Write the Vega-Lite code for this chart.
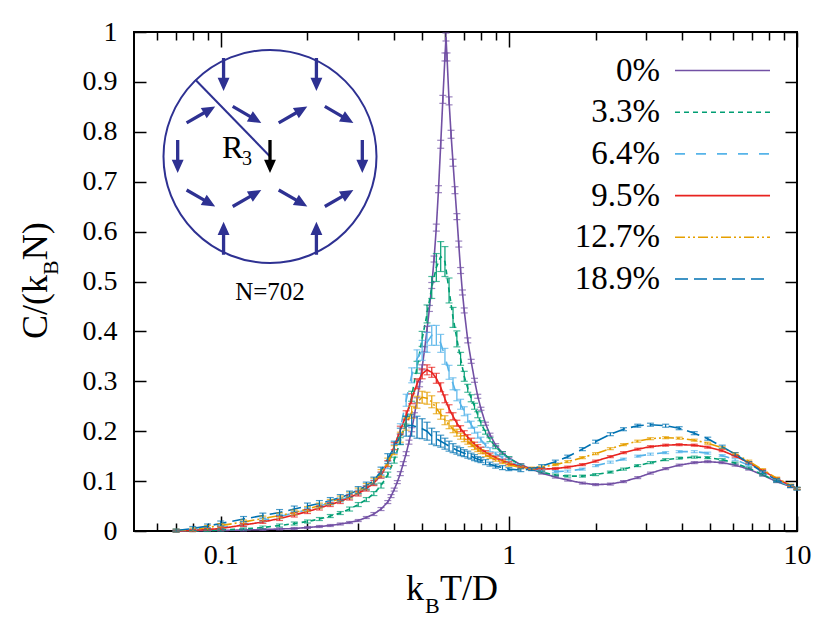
{
  "$schema": "https://vega.github.io/schema/vega-lite/v6.json",
  "width": 663,
  "height": 499,
  "autosize": {"type": "none"},
  "padding": {"left": 134, "top": 32, "right": 33, "bottom": 98},
  "background": "white",
  "config": {
    "view": {"stroke": "#000", "strokeWidth": 2},
    "mark": {"aria": false},
    "axis": {"aria": false, "domain": false, "grid": false, "tickColor": "#000", "tickWidth": 1.5, "labelFontSize": 28, "labelColor": "#000"},
    "legend": {"aria": false}
  },
  "datasets": {
    "curves": [
      {"s":"0%","x":0.07,"y":0.000,"e":0.001},{"s":"0%","x":0.08,"y":0.000,"e":0.001},{"s":"0%","x":0.09,"y":0.001,"e":0.001},{"s":"0%","x":0.10,"y":0.001,"e":0.001},
      {"s":"0%","x":0.12,"y":0.002,"e":0.002},{"s":"0%","x":0.14,"y":0.003,"e":0.002},{"s":"0%","x":0.16,"y":0.004,"e":0.002},{"s":"0%","x":0.18,"y":0.005,"e":0.002},
      {"s":"0%","x":0.20,"y":0.007,"e":0.002},{"s":"0%","x":0.22,"y":0.009,"e":0.002},{"s":"0%","x":0.24,"y":0.011,"e":0.002},{"s":"0%","x":0.26,"y":0.014,"e":0.002},
      {"s":"0%","x":0.28,"y":0.017,"e":0.002},{"s":"0%","x":0.30,"y":0.021,"e":0.002},{"s":"0%","x":0.32,"y":0.027,"e":0.002},{"s":"0%","x":0.34,"y":0.034,"e":0.003},
      {"s":"0%","x":0.36,"y":0.044,"e":0.003},{"s":"0%","x":0.38,"y":0.058,"e":0.003},{"s":"0%","x":0.39,"y":0.070,"e":0.003},{"s":"0%","x":0.40,"y":0.083,"e":0.003},
      {"s":"0%","x":0.41,"y":0.098,"e":0.003},{"s":"0%","x":0.42,"y":0.115,"e":0.004},{"s":"0%","x":0.43,"y":0.135,"e":0.004},{"s":"0%","x":0.44,"y":0.155,"e":0.004},
      {"s":"0%","x":0.45,"y":0.178,"e":0.004},{"s":"0%","x":0.46,"y":0.203,"e":0.004},{"s":"0%","x":0.47,"y":0.232,"e":0.005},{"s":"0%","x":0.48,"y":0.262,"e":0.005},
      {"s":"0%","x":0.49,"y":0.294,"e":0.005},{"s":"0%","x":0.50,"y":0.328,"e":0.005},{"s":"0%","x":0.51,"y":0.364,"e":0.005},{"s":"0%","x":0.52,"y":0.404,"e":0.006},
      {"s":"0%","x":0.53,"y":0.446,"e":0.006},{"s":"0%","x":0.54,"y":0.492,"e":0.006},{"s":"0%","x":0.55,"y":0.545,"e":0.006},{"s":"0%","x":0.56,"y":0.608,"e":0.007},
      {"s":"0%","x":0.57,"y":0.685,"e":0.007},{"s":"0%","x":0.58,"y":0.775,"e":0.008},{"s":"0%","x":0.59,"y":0.865,"e":0.008},{"s":"0%","x":0.60,"y":0.950,"e":0.008},
      {"s":"0%","x":0.605,"y":0.990,"e":0.008},{"s":"0%","x":0.61,"y":0.950,"e":0.008},{"s":"0%","x":0.62,"y":0.862,"e":0.008},{"s":"0%","x":0.63,"y":0.795,"e":0.008},
      {"s":"0%","x":0.64,"y":0.738,"e":0.007},{"s":"0%","x":0.65,"y":0.683,"e":0.007},{"s":"0%","x":0.66,"y":0.630,"e":0.006},{"s":"0%","x":0.67,"y":0.575,"e":0.006},
      {"s":"0%","x":0.68,"y":0.522,"e":0.006},{"s":"0%","x":0.69,"y":0.478,"e":0.005},{"s":"0%","x":0.70,"y":0.442,"e":0.005},{"s":"0%","x":0.72,"y":0.382,"e":0.005},
      {"s":"0%","x":0.74,"y":0.340,"e":0.004},{"s":"0%","x":0.76,"y":0.302,"e":0.004},{"s":"0%","x":0.78,"y":0.270,"e":0.004},{"s":"0%","x":0.80,"y":0.245,"e":0.003},
      {"s":"0%","x":0.83,"y":0.215,"e":0.003},{"s":"0%","x":0.86,"y":0.193,"e":0.003},{"s":"0%","x":0.90,"y":0.172,"e":0.003},{"s":"0%","x":0.95,"y":0.157,"e":0.002},
      {"s":"0%","x":1.0,"y":0.146,"e":0.002},{"s":"0%","x":1.1,"y":0.133,"e":0.002},{"s":"0%","x":1.2,"y":0.124,"e":0.002},{"s":"0%","x":1.3,"y":0.116,"e":0.002},
      {"s":"0%","x":1.45,"y":0.108,"e":0.002},{"s":"0%","x":1.6,"y":0.102,"e":0.002},{"s":"0%","x":1.8,"y":0.096,"e":0.002},{"s":"0%","x":2.0,"y":0.093,"e":0.002},
      {"s":"0%","x":2.25,"y":0.094,"e":0.002},{"s":"0%","x":2.5,"y":0.099,"e":0.002},{"s":"0%","x":2.8,"y":0.107,"e":0.002},{"s":"0%","x":3.1,"y":0.116,"e":0.002},
      {"s":"0%","x":3.5,"y":0.125,"e":0.002},{"s":"0%","x":3.9,"y":0.132,"e":0.002},{"s":"0%","x":4.4,"y":0.137,"e":0.002},{"s":"0%","x":4.9,"y":0.139,"e":0.002},
      {"s":"0%","x":5.5,"y":0.137,"e":0.002},{"s":"0%","x":6.1,"y":0.132,"e":0.002},{"s":"0%","x":6.8,"y":0.124,"e":0.002},{"s":"0%","x":7.6,"y":0.112,"e":0.002},
      {"s":"0%","x":8.5,"y":0.099,"e":0.002},{"s":"0%","x":9.5,"y":0.089,"e":0.002},{"s":"0%","x":10,"y":0.085,"e":0.002},

      {"s":"3.3%","x":0.07,"y":0.000,"e":0.001},{"s":"3.3%","x":0.08,"y":0.000,"e":0.001},{"s":"3.3%","x":0.09,"y":0.001,"e":0.002},{"s":"3.3%","x":0.10,"y":0.002,"e":0.002},
      {"s":"3.3%","x":0.12,"y":0.004,"e":0.002},{"s":"3.3%","x":0.14,"y":0.007,"e":0.003},{"s":"3.3%","x":0.16,"y":0.011,"e":0.003},{"s":"3.3%","x":0.18,"y":0.015,"e":0.003},
      {"s":"3.3%","x":0.20,"y":0.019,"e":0.003},{"s":"3.3%","x":0.22,"y":0.024,"e":0.003},{"s":"3.3%","x":0.24,"y":0.030,"e":0.003},{"s":"3.3%","x":0.26,"y":0.036,"e":0.003},
      {"s":"3.3%","x":0.28,"y":0.044,"e":0.004},{"s":"3.3%","x":0.30,"y":0.053,"e":0.004},{"s":"3.3%","x":0.32,"y":0.063,"e":0.004},{"s":"3.3%","x":0.34,"y":0.075,"e":0.004},
      {"s":"3.3%","x":0.36,"y":0.091,"e":0.005},{"s":"3.3%","x":0.38,"y":0.113,"e":0.005},{"s":"3.3%","x":0.40,"y":0.142,"e":0.006},{"s":"3.3%","x":0.42,"y":0.180,"e":0.007},
      {"s":"3.3%","x":0.44,"y":0.222,"e":0.008},{"s":"3.3%","x":0.46,"y":0.270,"e":0.010},{"s":"3.3%","x":0.48,"y":0.328,"e":0.012},{"s":"3.3%","x":0.50,"y":0.385,"e":0.015},
      {"s":"3.3%","x":0.52,"y":0.435,"e":0.018},{"s":"3.3%","x":0.54,"y":0.488,"e":0.022},{"s":"3.3%","x":0.56,"y":0.528,"e":0.028},{"s":"3.3%","x":0.58,"y":0.550,"e":0.030},
      {"s":"3.3%","x":0.60,"y":0.540,"e":0.030},{"s":"3.3%","x":0.62,"y":0.482,"e":0.025},{"s":"3.3%","x":0.64,"y":0.428,"e":0.020},{"s":"3.3%","x":0.66,"y":0.385,"e":0.016},
      {"s":"3.3%","x":0.68,"y":0.345,"e":0.013},{"s":"3.3%","x":0.70,"y":0.310,"e":0.010},{"s":"3.3%","x":0.72,"y":0.286,"e":0.008},{"s":"3.3%","x":0.74,"y":0.266,"e":0.007},
      {"s":"3.3%","x":0.76,"y":0.250,"e":0.006},{"s":"3.3%","x":0.78,"y":0.233,"e":0.006},{"s":"3.3%","x":0.80,"y":0.216,"e":0.005},{"s":"3.3%","x":0.83,"y":0.198,"e":0.004},
      {"s":"3.3%","x":0.86,"y":0.183,"e":0.004},{"s":"3.3%","x":0.90,"y":0.168,"e":0.003},{"s":"3.3%","x":0.95,"y":0.156,"e":0.003},{"s":"3.3%","x":1.0,"y":0.146,"e":0.003},
      {"s":"3.3%","x":1.1,"y":0.132,"e":0.002},{"s":"3.3%","x":1.2,"y":0.124,"e":0.002},{"s":"3.3%","x":1.3,"y":0.118,"e":0.002},{"s":"3.3%","x":1.45,"y":0.112,"e":0.002},
      {"s":"3.3%","x":1.6,"y":0.110,"e":0.002},{"s":"3.3%","x":1.8,"y":0.110,"e":0.002},{"s":"3.3%","x":2.0,"y":0.113,"e":0.002},{"s":"3.3%","x":2.25,"y":0.118,"e":0.002},
      {"s":"3.3%","x":2.5,"y":0.124,"e":0.002},{"s":"3.3%","x":2.8,"y":0.131,"e":0.002},{"s":"3.3%","x":3.1,"y":0.137,"e":0.002},{"s":"3.3%","x":3.5,"y":0.143,"e":0.002},
      {"s":"3.3%","x":3.9,"y":0.146,"e":0.002},{"s":"3.3%","x":4.4,"y":0.148,"e":0.002},{"s":"3.3%","x":4.9,"y":0.147,"e":0.002},{"s":"3.3%","x":5.5,"y":0.143,"e":0.002},
      {"s":"3.3%","x":6.1,"y":0.136,"e":0.002},{"s":"3.3%","x":6.8,"y":0.126,"e":0.002},{"s":"3.3%","x":7.6,"y":0.113,"e":0.002},{"s":"3.3%","x":8.5,"y":0.100,"e":0.002},
      {"s":"3.3%","x":9.5,"y":0.090,"e":0.002},{"s":"3.3%","x":10,"y":0.085,"e":0.002},

      {"s":"6.4%","x":0.07,"y":0.000,"e":0.002},{"s":"6.4%","x":0.08,"y":0.002,"e":0.002},{"s":"6.4%","x":0.09,"y":0.004,"e":0.002},{"s":"6.4%","x":0.10,"y":0.007,"e":0.003},
      {"s":"6.4%","x":0.12,"y":0.013,"e":0.003},{"s":"6.4%","x":0.14,"y":0.021,"e":0.003},{"s":"6.4%","x":0.16,"y":0.029,"e":0.004},{"s":"6.4%","x":0.18,"y":0.036,"e":0.004},
      {"s":"6.4%","x":0.20,"y":0.043,"e":0.004},{"s":"6.4%","x":0.22,"y":0.050,"e":0.004},{"s":"6.4%","x":0.24,"y":0.056,"e":0.004},{"s":"6.4%","x":0.26,"y":0.062,"e":0.004},
      {"s":"6.4%","x":0.28,"y":0.069,"e":0.005},{"s":"6.4%","x":0.30,"y":0.077,"e":0.005},{"s":"6.4%","x":0.32,"y":0.086,"e":0.005},{"s":"6.4%","x":0.34,"y":0.097,"e":0.005},
      {"s":"6.4%","x":0.36,"y":0.112,"e":0.006},{"s":"6.4%","x":0.38,"y":0.132,"e":0.007},{"s":"6.4%","x":0.40,"y":0.165,"e":0.008},{"s":"6.4%","x":0.42,"y":0.205,"e":0.010},
      {"s":"6.4%","x":0.44,"y":0.262,"e":0.012},{"s":"6.4%","x":0.46,"y":0.312,"e":0.015},{"s":"6.4%","x":0.48,"y":0.345,"e":0.018},{"s":"6.4%","x":0.50,"y":0.362,"e":0.020},
      {"s":"6.4%","x":0.52,"y":0.378,"e":0.020},{"s":"6.4%","x":0.54,"y":0.392,"e":0.020},{"s":"6.4%","x":0.56,"y":0.392,"e":0.020},{"s":"6.4%","x":0.58,"y":0.376,"e":0.018},
      {"s":"6.4%","x":0.60,"y":0.350,"e":0.016},{"s":"6.4%","x":0.62,"y":0.318,"e":0.014},{"s":"6.4%","x":0.64,"y":0.295,"e":0.012},{"s":"6.4%","x":0.66,"y":0.272,"e":0.011},
      {"s":"6.4%","x":0.68,"y":0.254,"e":0.010},{"s":"6.4%","x":0.70,"y":0.240,"e":0.009},{"s":"6.4%","x":0.72,"y":0.226,"e":0.008},{"s":"6.4%","x":0.74,"y":0.213,"e":0.007},
      {"s":"6.4%","x":0.76,"y":0.202,"e":0.006},{"s":"6.4%","x":0.78,"y":0.192,"e":0.006},{"s":"6.4%","x":0.80,"y":0.183,"e":0.005},{"s":"6.4%","x":0.83,"y":0.172,"e":0.004},
      {"s":"6.4%","x":0.86,"y":0.163,"e":0.004},{"s":"6.4%","x":0.90,"y":0.155,"e":0.003},{"s":"6.4%","x":0.95,"y":0.147,"e":0.003},{"s":"6.4%","x":1.0,"y":0.140,"e":0.003},
      {"s":"6.4%","x":1.1,"y":0.130,"e":0.002},{"s":"6.4%","x":1.2,"y":0.124,"e":0.002},{"s":"6.4%","x":1.3,"y":0.121,"e":0.002},{"s":"6.4%","x":1.45,"y":0.119,"e":0.002},
      {"s":"6.4%","x":1.6,"y":0.120,"e":0.002},{"s":"6.4%","x":1.8,"y":0.124,"e":0.002},{"s":"6.4%","x":2.0,"y":0.131,"e":0.002},{"s":"6.4%","x":2.25,"y":0.138,"e":0.002},
      {"s":"6.4%","x":2.5,"y":0.144,"e":0.002},{"s":"6.4%","x":2.8,"y":0.150,"e":0.002},{"s":"6.4%","x":3.1,"y":0.154,"e":0.002},{"s":"6.4%","x":3.5,"y":0.157,"e":0.002},
      {"s":"6.4%","x":3.9,"y":0.159,"e":0.002},{"s":"6.4%","x":4.4,"y":0.159,"e":0.002},{"s":"6.4%","x":4.9,"y":0.156,"e":0.002},{"s":"6.4%","x":5.5,"y":0.151,"e":0.002},
      {"s":"6.4%","x":6.1,"y":0.143,"e":0.002},{"s":"6.4%","x":6.8,"y":0.132,"e":0.002},{"s":"6.4%","x":7.6,"y":0.117,"e":0.002},{"s":"6.4%","x":8.5,"y":0.102,"e":0.002},
      {"s":"6.4%","x":9.5,"y":0.090,"e":0.002},{"s":"6.4%","x":10,"y":0.085,"e":0.002},

      {"s":"9.5%","x":0.07,"y":0.000,"e":0.002},{"s":"9.5%","x":0.08,"y":0.001,"e":0.002},{"s":"9.5%","x":0.09,"y":0.003,"e":0.002},{"s":"9.5%","x":0.10,"y":0.005,"e":0.003},
      {"s":"9.5%","x":0.12,"y":0.012,"e":0.003},{"s":"9.5%","x":0.14,"y":0.018,"e":0.003},{"s":"9.5%","x":0.16,"y":0.025,"e":0.004},{"s":"9.5%","x":0.18,"y":0.032,"e":0.004},
      {"s":"9.5%","x":0.20,"y":0.039,"e":0.004},{"s":"9.5%","x":0.22,"y":0.046,"e":0.004},{"s":"9.5%","x":0.24,"y":0.053,"e":0.004},{"s":"9.5%","x":0.26,"y":0.059,"e":0.004},
      {"s":"9.5%","x":0.28,"y":0.067,"e":0.005},{"s":"9.5%","x":0.30,"y":0.075,"e":0.005},{"s":"9.5%","x":0.32,"y":0.085,"e":0.005},{"s":"9.5%","x":0.34,"y":0.096,"e":0.005},
      {"s":"9.5%","x":0.36,"y":0.112,"e":0.006},{"s":"9.5%","x":0.38,"y":0.135,"e":0.006},{"s":"9.5%","x":0.40,"y":0.170,"e":0.007},{"s":"9.5%","x":0.42,"y":0.202,"e":0.008},
      {"s":"9.5%","x":0.44,"y":0.232,"e":0.009},{"s":"9.5%","x":0.46,"y":0.265,"e":0.010},{"s":"9.5%","x":0.48,"y":0.295,"e":0.010},{"s":"9.5%","x":0.50,"y":0.315,"e":0.010},
      {"s":"9.5%","x":0.52,"y":0.323,"e":0.010},{"s":"9.5%","x":0.54,"y":0.318,"e":0.010},{"s":"9.5%","x":0.56,"y":0.306,"e":0.010},{"s":"9.5%","x":0.58,"y":0.288,"e":0.009},
      {"s":"9.5%","x":0.60,"y":0.265,"e":0.008},{"s":"9.5%","x":0.62,"y":0.245,"e":0.008},{"s":"9.5%","x":0.64,"y":0.230,"e":0.007},{"s":"9.5%","x":0.66,"y":0.216,"e":0.006},
      {"s":"9.5%","x":0.68,"y":0.205,"e":0.006},{"s":"9.5%","x":0.70,"y":0.196,"e":0.005},{"s":"9.5%","x":0.72,"y":0.188,"e":0.005},{"s":"9.5%","x":0.74,"y":0.181,"e":0.005},
      {"s":"9.5%","x":0.76,"y":0.174,"e":0.004},{"s":"9.5%","x":0.78,"y":0.169,"e":0.004},{"s":"9.5%","x":0.80,"y":0.164,"e":0.004},{"s":"9.5%","x":0.83,"y":0.158,"e":0.003},
      {"s":"9.5%","x":0.86,"y":0.153,"e":0.003},{"s":"9.5%","x":0.90,"y":0.147,"e":0.003},{"s":"9.5%","x":0.95,"y":0.141,"e":0.003},{"s":"9.5%","x":1.0,"y":0.136,"e":0.003},
      {"s":"9.5%","x":1.1,"y":0.129,"e":0.002},{"s":"9.5%","x":1.2,"y":0.125,"e":0.002},{"s":"9.5%","x":1.3,"y":0.124,"e":0.002},{"s":"9.5%","x":1.45,"y":0.125,"e":0.002},
      {"s":"9.5%","x":1.6,"y":0.128,"e":0.002},{"s":"9.5%","x":1.8,"y":0.133,"e":0.002},{"s":"9.5%","x":2.0,"y":0.140,"e":0.002},{"s":"9.5%","x":2.25,"y":0.149,"e":0.002},
      {"s":"9.5%","x":2.5,"y":0.157,"e":0.002},{"s":"9.5%","x":2.8,"y":0.164,"e":0.002},{"s":"9.5%","x":3.1,"y":0.169,"e":0.002},{"s":"9.5%","x":3.5,"y":0.172,"e":0.002},
      {"s":"9.5%","x":3.9,"y":0.173,"e":0.002},{"s":"9.5%","x":4.4,"y":0.172,"e":0.002},{"s":"9.5%","x":4.9,"y":0.168,"e":0.002},{"s":"9.5%","x":5.5,"y":0.161,"e":0.002},
      {"s":"9.5%","x":6.1,"y":0.150,"e":0.002},{"s":"9.5%","x":6.8,"y":0.137,"e":0.002},{"s":"9.5%","x":7.6,"y":0.121,"e":0.002},{"s":"9.5%","x":8.5,"y":0.105,"e":0.002},
      {"s":"9.5%","x":9.5,"y":0.091,"e":0.002},{"s":"9.5%","x":10,"y":0.085,"e":0.002},

      {"s":"12.7%","x":0.07,"y":0.001,"e":0.003},{"s":"12.7%","x":0.08,"y":0.003,"e":0.003},{"s":"12.7%","x":0.09,"y":0.007,"e":0.004},{"s":"12.7%","x":0.10,"y":0.011,"e":0.004},
      {"s":"12.7%","x":0.12,"y":0.018,"e":0.004},{"s":"12.7%","x":0.14,"y":0.025,"e":0.005},{"s":"12.7%","x":0.16,"y":0.031,"e":0.005},{"s":"12.7%","x":0.18,"y":0.037,"e":0.005},
      {"s":"12.7%","x":0.20,"y":0.044,"e":0.005},{"s":"12.7%","x":0.22,"y":0.051,"e":0.005},{"s":"12.7%","x":0.24,"y":0.058,"e":0.005},{"s":"12.7%","x":0.26,"y":0.065,"e":0.005},
      {"s":"12.7%","x":0.28,"y":0.072,"e":0.006},{"s":"12.7%","x":0.30,"y":0.080,"e":0.006},{"s":"12.7%","x":0.32,"y":0.089,"e":0.006},{"s":"12.7%","x":0.34,"y":0.100,"e":0.006},
      {"s":"12.7%","x":0.36,"y":0.116,"e":0.007},{"s":"12.7%","x":0.38,"y":0.138,"e":0.008},{"s":"12.7%","x":0.40,"y":0.162,"e":0.009},{"s":"12.7%","x":0.42,"y":0.188,"e":0.010},
      {"s":"12.7%","x":0.44,"y":0.214,"e":0.012},{"s":"12.7%","x":0.46,"y":0.238,"e":0.012},{"s":"12.7%","x":0.48,"y":0.258,"e":0.012},{"s":"12.7%","x":0.50,"y":0.268,"e":0.012},
      {"s":"12.7%","x":0.52,"y":0.266,"e":0.012},{"s":"12.7%","x":0.54,"y":0.259,"e":0.012},{"s":"12.7%","x":0.56,"y":0.246,"e":0.011},{"s":"12.7%","x":0.58,"y":0.234,"e":0.010},
      {"s":"12.7%","x":0.60,"y":0.222,"e":0.009},{"s":"12.7%","x":0.62,"y":0.213,"e":0.008},{"s":"12.7%","x":0.64,"y":0.204,"e":0.007},{"s":"12.7%","x":0.66,"y":0.197,"e":0.007},
      {"s":"12.7%","x":0.68,"y":0.190,"e":0.006},{"s":"12.7%","x":0.70,"y":0.185,"e":0.006},{"s":"12.7%","x":0.72,"y":0.179,"e":0.005},{"s":"12.7%","x":0.74,"y":0.174,"e":0.005},
      {"s":"12.7%","x":0.76,"y":0.168,"e":0.005},{"s":"12.7%","x":0.78,"y":0.163,"e":0.004},{"s":"12.7%","x":0.80,"y":0.159,"e":0.004},{"s":"12.7%","x":0.83,"y":0.153,"e":0.004},
      {"s":"12.7%","x":0.86,"y":0.148,"e":0.003},{"s":"12.7%","x":0.90,"y":0.143,"e":0.003},{"s":"12.7%","x":0.95,"y":0.138,"e":0.003},{"s":"12.7%","x":1.0,"y":0.133,"e":0.003},
      {"s":"12.7%","x":1.1,"y":0.127,"e":0.002},{"s":"12.7%","x":1.2,"y":0.126,"e":0.002},{"s":"12.7%","x":1.3,"y":0.128,"e":0.002},{"s":"12.7%","x":1.45,"y":0.133,"e":0.002},
      {"s":"12.7%","x":1.6,"y":0.139,"e":0.002},{"s":"12.7%","x":1.8,"y":0.147,"e":0.002},{"s":"12.7%","x":2.0,"y":0.155,"e":0.002},{"s":"12.7%","x":2.25,"y":0.165,"e":0.002},
      {"s":"12.7%","x":2.5,"y":0.173,"e":0.002},{"s":"12.7%","x":2.8,"y":0.180,"e":0.002},{"s":"12.7%","x":3.1,"y":0.185,"e":0.002},{"s":"12.7%","x":3.5,"y":0.187,"e":0.002},
      {"s":"12.7%","x":3.9,"y":0.186,"e":0.002},{"s":"12.7%","x":4.4,"y":0.182,"e":0.002},{"s":"12.7%","x":4.9,"y":0.176,"e":0.002},{"s":"12.7%","x":5.5,"y":0.167,"e":0.002},
      {"s":"12.7%","x":6.1,"y":0.155,"e":0.002},{"s":"12.7%","x":6.8,"y":0.140,"e":0.002},{"s":"12.7%","x":7.6,"y":0.123,"e":0.002},{"s":"12.7%","x":8.5,"y":0.106,"e":0.002},
      {"s":"12.7%","x":9.5,"y":0.092,"e":0.002},{"s":"12.7%","x":10,"y":0.085,"e":0.002},

      {"s":"18.9%","x":0.07,"y":0.001,"e":0.003},{"s":"18.9%","x":0.08,"y":0.005,"e":0.004},{"s":"18.9%","x":0.09,"y":0.010,"e":0.004},{"s":"18.9%","x":0.10,"y":0.015,"e":0.005},
      {"s":"18.9%","x":0.12,"y":0.024,"e":0.005},{"s":"18.9%","x":0.14,"y":0.031,"e":0.005},{"s":"18.9%","x":0.16,"y":0.037,"e":0.006},{"s":"18.9%","x":0.18,"y":0.044,"e":0.006},
      {"s":"18.9%","x":0.20,"y":0.050,"e":0.006},{"s":"18.9%","x":0.22,"y":0.055,"e":0.006},{"s":"18.9%","x":0.24,"y":0.061,"e":0.006},{"s":"18.9%","x":0.26,"y":0.067,"e":0.006},
      {"s":"18.9%","x":0.28,"y":0.074,"e":0.006},{"s":"18.9%","x":0.30,"y":0.082,"e":0.007},{"s":"18.9%","x":0.32,"y":0.091,"e":0.007},{"s":"18.9%","x":0.34,"y":0.101,"e":0.007},
      {"s":"18.9%","x":0.36,"y":0.120,"e":0.008},{"s":"18.9%","x":0.38,"y":0.145,"e":0.010},{"s":"18.9%","x":0.40,"y":0.168,"e":0.012},{"s":"18.9%","x":0.42,"y":0.190,"e":0.016},
      {"s":"18.9%","x":0.44,"y":0.210,"e":0.020},{"s":"18.9%","x":0.46,"y":0.212,"e":0.022},{"s":"18.9%","x":0.48,"y":0.208,"e":0.022},{"s":"18.9%","x":0.50,"y":0.205,"e":0.020},
      {"s":"18.9%","x":0.52,"y":0.200,"e":0.018},{"s":"18.9%","x":0.54,"y":0.190,"e":0.016},{"s":"18.9%","x":0.56,"y":0.185,"e":0.014},{"s":"18.9%","x":0.58,"y":0.180,"e":0.012},
      {"s":"18.9%","x":0.60,"y":0.175,"e":0.011},{"s":"18.9%","x":0.62,"y":0.170,"e":0.010},{"s":"18.9%","x":0.64,"y":0.166,"e":0.009},{"s":"18.9%","x":0.66,"y":0.162,"e":0.008},
      {"s":"18.9%","x":0.68,"y":0.159,"e":0.008},{"s":"18.9%","x":0.70,"y":0.156,"e":0.007},{"s":"18.9%","x":0.72,"y":0.153,"e":0.007},{"s":"18.9%","x":0.74,"y":0.150,"e":0.006},
      {"s":"18.9%","x":0.76,"y":0.147,"e":0.006},{"s":"18.9%","x":0.78,"y":0.144,"e":0.005},{"s":"18.9%","x":0.80,"y":0.142,"e":0.005},{"s":"18.9%","x":0.83,"y":0.138,"e":0.005},
      {"s":"18.9%","x":0.86,"y":0.134,"e":0.004},{"s":"18.9%","x":0.90,"y":0.130,"e":0.004},{"s":"18.9%","x":0.95,"y":0.127,"e":0.004},{"s":"18.9%","x":1.0,"y":0.124,"e":0.003},
      {"s":"18.9%","x":1.1,"y":0.122,"e":0.003},{"s":"18.9%","x":1.2,"y":0.124,"e":0.003},{"s":"18.9%","x":1.3,"y":0.130,"e":0.003},{"s":"18.9%","x":1.45,"y":0.139,"e":0.003},
      {"s":"18.9%","x":1.6,"y":0.149,"e":0.003},{"s":"18.9%","x":1.8,"y":0.164,"e":0.003},{"s":"18.9%","x":2.0,"y":0.179,"e":0.003},{"s":"18.9%","x":2.25,"y":0.194,"e":0.003},
      {"s":"18.9%","x":2.5,"y":0.204,"e":0.003},{"s":"18.9%","x":2.8,"y":0.211,"e":0.003},{"s":"18.9%","x":3.1,"y":0.213,"e":0.003},{"s":"18.9%","x":3.5,"y":0.211,"e":0.003},
      {"s":"18.9%","x":3.9,"y":0.206,"e":0.003},{"s":"18.9%","x":4.4,"y":0.196,"e":0.003},{"s":"18.9%","x":4.9,"y":0.185,"e":0.003},{"s":"18.9%","x":5.5,"y":0.169,"e":0.003},
      {"s":"18.9%","x":6.1,"y":0.154,"e":0.003},{"s":"18.9%","x":6.8,"y":0.136,"e":0.003},{"s":"18.9%","x":7.6,"y":0.118,"e":0.003},{"s":"18.9%","x":8.5,"y":0.102,"e":0.003},
      {"s":"18.9%","x":9.5,"y":0.090,"e":0.003},{"s":"18.9%","x":10,"y":0.085,"e":0.003}
    ],
    "spins": [
      {"x":-0.44,"y":0.755,"dir":180,"k":"spin"},{"x":0.44,"y":0.755,"dir":180,"k":"spin"},
      {"x":-0.655,"y":0.385,"dir":60,"k":"spin"},{"x":-0.218,"y":0.385,"dir":120,"k":"spin"},
      {"x":0.218,"y":0.385,"dir":60,"k":"spin"},{"x":0.655,"y":0.385,"dir":120,"k":"spin"},
      {"x":-0.875,"y":0.0,"dir":180,"k":"spin"},{"x":0.875,"y":0.0,"dir":180,"k":"spin"},
      {"x":-0.655,"y":-0.385,"dir":120,"k":"spin"},{"x":-0.218,"y":-0.385,"dir":60,"k":"spin"},
      {"x":0.218,"y":-0.385,"dir":120,"k":"spin"},{"x":0.655,"y":-0.385,"dir":60,"k":"spin"},
      {"x":-0.44,"y":-0.755,"dir":0,"k":"spin"},{"x":0.44,"y":-0.755,"dir":0,"k":"spin"},
      {"x":0.0,"y":0.0,"dir":180,"k":"probe"}
    ]
  },
  "layer": [
    {
      "layer": [
        {
          "data": {"name": "curves"},
          "mark": {"type": "line", "strokeWidth": 1.6},
          "encoding": {
            "x": {"field": "x", "type": "quantitative",
              "scale": {"type": "log", "domain": [0.05, 10], "nice": false},
              "axis": {"orient": "bottom", "title": null, "values": [0.06,0.07,0.08,0.09,0.1,0.2,0.3,0.4,0.5,0.6,0.7,0.8,0.9,1,2,3,4,5,6,7,8,9,10],
                "format": "~g", "labelExpr": "datum.value==0.1||datum.value==1||datum.value==10 ? datum.label : ''", "labelFont": "Liberation Serif",
                "tickSize": {"condition": {"test": "datum.value==0.1||datum.value==1||datum.value==10", "value": -15}, "value": -8},
                "labelPadding": 25, "labelFlush": false, "labelOverlap": false}},
            "y": {"field": "y", "type": "quantitative",
              "scale": {"domain": [0, 1], "nice": false, "zero": false},
              "axis": {"orient": "left", "title": null, "values": [0,0.1,0.2,0.3,0.4,0.5,0.6,0.7,0.8,0.9,1], "format": "~g", "labelFont": "Liberation Serif",
                "tickSize": -12, "labelPadding": 29, "labelOverlap": false}},
            "color": {"field": "s", "type": "nominal",
              "scale": {"domain": ["0%","3.3%","6.4%","9.5%","12.7%","18.9%"], "range": ["#7250a4","#009e73","#56b4e9","#e8231f","#e69f00","#0072b2"]},
              "legend": {"orient": "none", "legendX": 572, "legendY": 22, "title": null, "symbolType": "M-5,0H5", "symbolSize": 361, "symbolStrokeWidth": 1.6,
                "labelFont": "Liberation Serif", "labelFontSize": 33, "labelColor": "#000", "labelAlign": "right", "labelOffset": -79, "labelLimit": 0, "rowPadding": 7.7, "padding": 0}},
            "strokeDash": {"field": "s", "type": "nominal",
              "scale": {"domain": ["0%","3.3%","6.4%","9.5%","12.7%","18.9%"], "range": [[1,0],[5,4],[10,11],[1,0],[10,3,2,3,2,3],[13,6]]},
              "legend": {"orient": "none", "legendX": 572, "legendY": 22, "title": null, "symbolType": "M-5,0H5", "symbolSize": 361, "symbolStrokeWidth": 1.6,
                "labelFont": "Liberation Serif", "labelFontSize": 33, "labelColor": "#000", "labelAlign": "right", "labelOffset": -79, "labelLimit": 0, "rowPadding": 7.7, "padding": 0}}
          }
        },
        {
          "data": {"name": "curves"},
          "mark": {"type": "errorbar", "ticks": {"size": 7, "thickness": 1.2}, "rule": {"strokeWidth": 1.2}},
          "encoding": {
            "x": {"field": "x", "type": "quantitative",
              "axis": {"orient": "top", "title": null, "values": [0.06,0.07,0.08,0.09,0.1,0.2,0.3,0.4,0.5,0.6,0.7,0.8,0.9,1,2,3,4,5,6,7,8,9,10], "labels": false,
                "tickSize": {"condition": {"test": "datum.value==0.1||datum.value==1||datum.value==10", "value": -15}, "value": -8}}},
            "y": {"field": "y", "type": "quantitative", "title": null,
              "axis": {"orient": "right", "title": null, "values": [0,0.1,0.2,0.3,0.4,0.5,0.6,0.7,0.8,0.9,1], "labels": false, "tickSize": -12}},
            "yError": {"field": "e"},
            "color": {"field": "s", "type": "nominal", "legend": null}
          }
        },
        {
          "data": {"values": [{}]},
          "mark": {"type": "text", "text": "k", "align": "left", "baseline": "alphabetic", "fontSize": 36, "font": "Liberation Serif", "fill": "#000"},
          "encoding": {"x": {"datum": 0.4395, "type": "quantitative", "axis": null}, "y": {"datum": -0.138, "type": "quantitative", "axis": null}}
        },
        {
          "data": {"values": [{}]},
          "mark": {"type": "text", "text": "B", "align": "left", "baseline": "alphabetic", "fontSize": 22, "font": "Liberation Serif", "fill": "#000"},
          "encoding": {"x": {"datum": 0.5114, "type": "quantitative", "axis": null}, "y": {"datum": -0.164, "type": "quantitative", "axis": null}}
        },
        {
          "data": {"values": [{}]},
          "mark": {"type": "text", "text": "T/D", "align": "left", "baseline": "alphabetic", "fontSize": 36, "font": "Liberation Serif", "fill": "#000"},
          "encoding": {"x": {"datum": 0.5765, "type": "quantitative", "axis": null}, "y": {"datum": -0.138, "type": "quantitative", "axis": null}}
        },
        {
          "data": {"values": [{}]},
          "mark": {"type": "text", "text": "C/(k", "angle": 270, "align": "left", "baseline": "alphabetic", "fontSize": 36, "font": "Liberation Serif", "fill": "#000"},
          "encoding": {"x": {"datum": 0.02492, "type": "quantitative", "axis": null}, "y": {"datum": 0.3848, "type": "quantitative", "axis": null}}
        },
        {
          "data": {"values": [{}]},
          "mark": {"type": "text", "text": "B", "angle": 270, "align": "left", "baseline": "alphabetic", "fontSize": 22, "font": "Liberation Serif", "fill": "#000"},
          "encoding": {"x": {"datum": 0.02722, "type": "quantitative", "axis": null}, "y": {"datum": 0.513, "type": "quantitative", "axis": null}}
        },
        {
          "data": {"values": [{}]},
          "mark": {"type": "text", "text": "N)", "angle": 270, "align": "left", "baseline": "alphabetic", "fontSize": 36, "font": "Liberation Serif", "fill": "#000"},
          "encoding": {"x": {"datum": 0.02492, "type": "quantitative", "axis": null}, "y": {"datum": 0.5425, "type": "quantitative", "axis": null}}
        }
      ],
      "resolve": {"axis": {"x": "independent", "y": "independent"}}
    },
    {
      "layer": [
        {
          "data": {"values": [{"x": 0, "y": 0}]},
          "mark": {"type": "point", "shape": "circle", "size": 45369, "filled": false, "stroke": "#2e3192", "strokeWidth": 2, "opacity": 1},
          "encoding": {
            "x": {"field": "x", "type": "quantitative", "scale": {"domain": [-1.289, 4.995], "nice": false, "zero": false}, "axis": null},
            "y": {"field": "y", "type": "quantitative", "scale": {"domain": [-3.452, 1.147], "nice": false, "zero": false}, "axis": null}
          }
        },
        {
          "data": {"values": [{"x": -0.707, "y": 0.707, "x2": 0, "y2": 0}]},
          "mark": {"type": "rule", "stroke": "#2e3192", "strokeWidth": 2},
          "encoding": {
            "x": {"field": "x", "type": "quantitative", "axis": null},
            "y": {"field": "y", "type": "quantitative", "axis": null},
            "x2": {"field": "x2"},
            "y2": {"field": "y2"}
          }
        },
        {
          "data": {"name": "spins"},
          "mark": {"type": "point", "shape": "M-0.1,1L0.1,1L0.1,-0.2L0.36,-0.2L0,-1L-0.36,-0.2L-0.1,-0.2Z", "size": 1089, "filled": true, "opacity": 1, "strokeWidth": 0},
          "encoding": {
            "x": {"field": "x", "type": "quantitative", "axis": null},
            "y": {"field": "y", "type": "quantitative", "axis": null},
            "angle": {"field": "dir", "type": "quantitative", "scale": null},
            "color": {"condition": {"test": "datum.k == 'probe'", "value": "#000000"}, "value": "#2e3192"}
          }
        },
        {
          "data": {"values": [{}]},
          "mark": {"type": "text", "text": "R", "align": "left", "baseline": "alphabetic", "fontSize": 32, "font": "Liberation Serif", "fill": "#000"},
          "encoding": {"x": {"datum": -0.455, "type": "quantitative", "axis": null}, "y": {"datum": -0.014, "type": "quantitative", "axis": null}}
        },
        {
          "data": {"values": [{}]},
          "mark": {"type": "text", "text": "3", "align": "left", "baseline": "alphabetic", "fontSize": 20, "font": "Liberation Serif", "fill": "#000"},
          "encoding": {"x": {"datum": -0.265, "type": "quantitative", "axis": null}, "y": {"datum": -0.078, "type": "quantitative", "axis": null}}
        },
        {
          "data": {"values": [{}]},
          "mark": {"type": "text", "text": "N=702", "align": "center", "baseline": "alphabetic", "fontSize": 25, "font": "Liberation Serif", "fill": "#000"},
          "encoding": {"x": {"datum": 0, "type": "quantitative", "axis": null}, "y": {"datum": -1.3226, "type": "quantitative", "axis": null}}
        }
      ]
    }
  ],
  "resolve": {"scale": {"x": "independent", "y": "independent"}}
}
